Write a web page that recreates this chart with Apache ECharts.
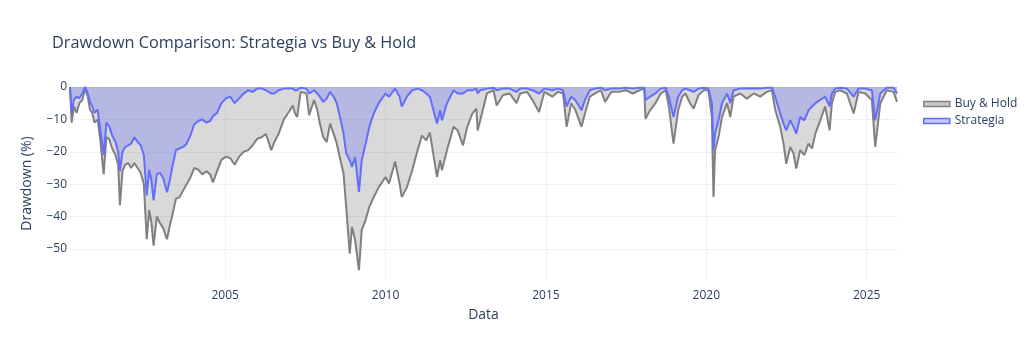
<!DOCTYPE html>
<html>
<head>
<meta charset="utf-8">
<script src="https://cdn.jsdelivr.net/npm/echarts@6/dist/echarts.min.js"></script>
<style>html,body{margin:0;padding:0;background:#fff}#c{width:1024px;height:352px}</style>
</head>
<body>
<div id="c"></div>
<script>
const dates = [
'2000-03-01','2000-03-20','2000-04-15','2000-05-15','2000-06-15','2000-07-20','2000-08-20','2000-09-20','2000-10-15','2000-11-10','2000-12-05',
'2001-01-10','2001-02-10','2001-03-20','2001-04-20','2001-05-20','2001-06-25','2001-08-01','2001-09-01','2001-09-21','2001-10-20','2001-11-20','2001-12-25',
'2002-01-25','2002-03-05','2002-04-10','2002-05-15','2002-06-20','2002-07-23','2002-08-20','2002-09-15','2002-10-09','2002-11-15','2002-12-20',
'2003-01-25','2003-03-10','2003-04-10','2003-05-15','2003-06-20','2003-08-01','2003-09-10','2003-10-20','2003-12-01',
'2004-01-15','2004-03-01','2004-04-15','2004-06-01','2004-07-15','2004-08-15','2004-10-01','2004-11-20',
'2005-01-10','2005-03-01','2005-04-20','2005-06-10','2005-08-01','2005-09-20','2005-11-10',
'2006-01-01','2006-02-20','2006-04-10','2006-06-10','2006-07-15','2006-09-01','2006-11-01',
'2007-01-01','2007-02-10','2007-03-05','2007-04-01','2007-05-10','2007-07-15','2007-08-15','2007-10-10','2007-11-15','2007-12-15',
'2008-01-22','2008-03-01','2008-04-10','2008-05-20','2008-06-25','2008-08-01','2008-09-10','2008-10-10','2008-11-20','2008-12-15',
'2009-01-20','2009-03-05','2009-04-05','2009-05-20','2009-07-01','2009-08-20','2009-10-15',
'2010-01-01','2010-02-10','2010-04-20','2010-06-10','2010-07-05','2010-09-01','2010-11-01',
'2011-01-01','2011-02-20','2011-04-10','2011-05-20','2011-08-10','2011-09-15','2011-10-05','2011-12-01',
'2012-02-15','2012-04-01','2012-06-01','2012-07-20','2012-09-15','2012-11-01','2012-11-15','2012-12-15',
'2013-03-01','2013-05-15','2013-06-20','2013-09-01','2013-11-15',
'2014-02-01','2014-03-15','2014-06-01','2014-08-01','2014-10-15','2014-12-15',
'2015-03-15','2015-05-20','2015-07-15','2015-08-25','2015-10-15','2015-12-01',
'2016-02-10','2016-03-20','2016-05-15','2016-07-15','2016-09-20','2016-11-05',
'2017-01-15','2017-04-15','2017-07-01','2017-09-15','2017-12-01',
'2018-01-25','2018-02-08','2018-04-01','2018-06-01','2018-08-01','2018-09-25','2018-11-01','2018-12-24',
'2019-02-15','2019-04-01','2019-05-08','2019-07-01','2019-08-10','2019-10-05','2019-12-01',
'2020-01-25','2020-03-05','2020-03-23','2020-04-10','2020-05-20','2020-06-28','2020-08-25','2020-10-01','2020-11-07',
'2021-01-22','2021-04-08','2021-06-24','2021-09-05','2021-11-20',
'2022-01-18','2022-02-24','2022-04-22','2022-05-30','2022-06-30','2022-08-15','2022-09-20','2022-10-22','2022-12-05',
'2023-01-22','2023-03-10','2023-04-20','2023-05-27','2023-07-22','2023-09-16','2023-11-05','2023-12-01',
'2024-01-08','2024-03-05','2024-05-20','2024-08-05','2024-10-01','2024-12-15',
'2025-03-01','2025-04-08','2025-06-05','2025-08-18','2025-11-02','2025-12-12'
];
const buyHold = [
0,-11,-6,-8,-5,-4,-0.5,-3,-7,-8,-11,
-10,-16.5,-27,-15.5,-16,-19,-21,-24,-36.5,-26,-24,-23.5,
-25,-23.5,-25,-26.5,-30,-47,-38,-42,-49,-40,-42,
-43.5,-47,-43,-39,-34.5,-34,-32,-30,-28,
-25,-25.5,-27,-26,-27,-29.5,-26,-22.5,
-21.5,-22,-24,-21.5,-20,-19.5,-18,
-16,-15.5,-14.5,-19.5,-17,-14.5,-10,
-7.5,-5.7,-8,-9.3,-1.5,-2,-8.7,-4,-7,-11.3,
-15.4,-17,-11.3,-14.4,-17.5,-22,-26.7,-37,-51.5,-43.2,
-47.3,-56.6,-44.2,-41,-37,-34,-31,
-27.8,-29.8,-23,-29.8,-34,-31,-25.7,
-19.5,-15,-16.5,-14,-27.8,-22.6,-25.7,-19.5,
-12.3,-13.4,-18,-12.3,-8.2,-6.7,-13.4,-10.3,
-2,-1,-5.7,-2.5,-2,
-5,-2,-1.5,-4,-7.7,-1.5,
-3,-1.5,-2,-12.3,-5,-7,
-12.3,-8.2,-3,-2,-1,-4.6,
-1.5,-1.5,-1,-2,-1,
-0.5,-9.8,-7.2,-5,-2,-1,-6,-17.5,
-7.2,-3,-2,-5,-6.7,-2.5,-1,
-1,-9.3,-34,-19.5,-15.4,-9.3,-5,-9.3,-3,
-2,-3.6,-2,-3,-1.5,
-1,-7,-12.3,-17.5,-23.7,-18.5,-20.5,-25.2,-19.5,
-21,-17.5,-19,-14.4,-10.3,-6,-13.4,-5,
-1.5,-1,-2,-8.2,-1.5,-2,
-4,-18.5,-5,-1,-1.5,-4.6
];
const strategia = [
0,-8,-4,-3,-3.5,-2,0,-2,-4.5,-6,-8,
-7,-13,-21,-11,-12,-15,-17,-20,-26,-20,-18.5,-18,
-17.5,-15.5,-17,-18,-21,-33.5,-25.5,-29,-35,-27,-26.5,
-28,-32.5,-29,-24,-19.5,-19,-18.5,-17.5,-15,
-11.5,-10.5,-10,-11,-10.5,-9,-8,-5,
-3.5,-3,-5,-3.5,-2,-1,-1.5,
-0.5,-0.5,-1,-2,-2,-1,-0.5,
-0.5,-0.5,-1,-1,-0.2,-0.5,-2,-1,-2,-3,
-4.6,-3.6,-1.5,-3,-5,-9.3,-14.4,-20.5,-22.6,-24.7,
-21.6,-32.4,-22.6,-17.5,-12.3,-8.2,-5,
-2,-3,-0.5,-3,-6,-3,-1,
-0.5,-1,-2,-3,-11.3,-7.2,-10.3,-5,
-1,-2,-2,-1,-1,-0.5,-2,-1,
-0.5,-0.2,-1,-0.5,-0.5,
-1.5,-0.5,-0.5,-1,-2,-0.5,
-1,-0.5,-1,-6,-3,-4,
-7.2,-4,-1,-0.5,-0.2,-1,
-0.5,-0.5,-0.2,-0.5,-0.2,
-0.2,-4,-3,-2,-0.5,-0.2,-3,-9.3,
-3,-1,-0.5,-1,-1.5,-0.5,-0.2,
-0.5,-5,-19.5,-14.4,-10.3,-5,-2,-5,-1,
-0.5,-0.5,-0.5,-0.5,-0.2,
-0.2,-3,-8.2,-11.3,-13.4,-10.3,-12.3,-14.4,-9.3,
-10.3,-7.2,-6,-5,-4,-3,-6,-2,
-0.5,-0.2,-0.5,-3,-0.5,-0.5,
-1,-10.3,-2,-0.2,-0.2,-2
];
const xTickYears = [2005,2010,2015,2020,2025];
const yTicks = [-50,-40,-30,-20,-10,0];

const txt = '#2a3f5f';
const font = '"Open Sans", verdana, arial, sans-serif';
// date string -> fractional year (position on a linear value axis)
const toYear = s => {
  const d = new Date(s + 'T00:00:00Z');
  const y = d.getUTCFullYear();
  const a = Date.UTC(y,0,1), b = Date.UTC(y+1,0,1);
  return y + (d.getTime()-a)/(b-a);
};
const chart = echarts.init(document.getElementById('c'), null, {renderer:'canvas'});
chart.setOption({
  animation:false,
  backgroundColor:'#fff',
  textStyle:{fontFamily:font},
  title:{text:'Drawdown Comparison: Strategia vs Buy & Hold',left:47,top:30,
    textStyle:{fontFamily:font,fontSize:16.3,fontWeight:'normal',color:txt}},
  legend:{left:918,top:93,orient:'vertical',itemGap:5,itemWidth:26,itemHeight:5,
    textStyle:{fontFamily:font,fontSize:12,color:txt},
    data:[
      {name:'Buy & Hold',icon:'rect',itemStyle:{color:'#c8c8c8',borderColor:'#808080',borderWidth:1.5}},
      {name:'Strategia',icon:'rect',itemStyle:{color:'#c5cbf8',borderColor:'#636efa',borderWidth:1.5}}
    ]},
  grid:{left:70,right:127,top:87,bottom:72,containLabel:false},
  xAxis:{type:'value',min:toYear(dates[0]),max:toYear(dates[dates.length-1]),
    name:'Data',nameLocation:'middle',nameGap:28,
    nameTextStyle:{fontFamily:font,fontSize:14,color:txt},
    axisLine:{show:false},
    axisTick:{show:false,customValues:xTickYears},
    axisLabel:{customValues:xTickYears,formatter:v=>String(Math.round(v)),
      color:txt,fontSize:12,fontFamily:font,margin:10},
    splitLine:{show:true,lineStyle:{color:'#ebf0f8',width:1}}},
  yAxis:{type:'value',min:-59.6,max:0,
    name:'Drawdown (%)',nameLocation:'middle',nameGap:36,
    nameTextStyle:{fontFamily:font,fontSize:14,color:txt},
    axisLine:{show:false},
    axisTick:{show:false,customValues:yTicks},
    axisLabel:{customValues:yTicks,formatter:v=>String(v).replace('-','\u2212'),color:txt,fontSize:12,fontFamily:font,margin:3},
    splitLine:{show:true,lineStyle:{color:'#ebf0f8',width:1}}},
  series:[
    {name:'Buy & Hold',type:'line',showSymbol:false,
      data:dates.map((d,i)=>[toYear(d),buyHold[i]]),
      lineStyle:{color:'#808080',width:2},itemStyle:{color:'#808080'},
      areaStyle:{color:'rgba(128,128,128,0.3)',opacity:1}},
    {name:'Strategia',type:'line',showSymbol:false,
      data:dates.map((d,i)=>[toYear(d),strategia[i]]),
      lineStyle:{color:'#636efa',width:2},itemStyle:{color:'#636efa'},
      areaStyle:{color:'rgba(99,110,250,0.3)',opacity:1}}
  ]
});
</script>
</body>
</html>
